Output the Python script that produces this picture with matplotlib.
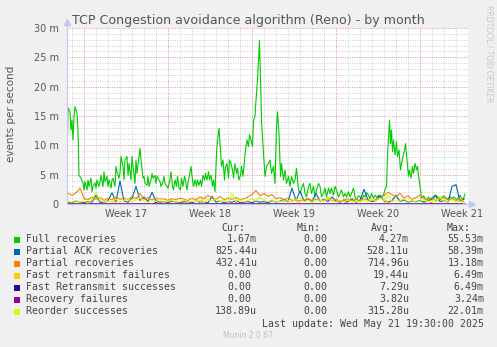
import matplotlib
matplotlib.use('Agg')
import matplotlib.pyplot as plt
from matplotlib.patches import Rectangle

W, H = 497, 347

# time axis: hours since the start of week 17; values in milli-events per second
full_hours = [-34, -32, -28, -26, -24, -22, -20, -18, -14, -12, -10, -6, -2, 0, 2, 6, 8, 10, 14, 16,
              18, 22, 24, 26, 30, 32, 34, 38, 40, 42, 46, 48, 50, 54, 56, 58, 62, 64, 66, 70,
              72, 74, 78, 80, 82, 86, 88, 90, 94, 96, 98, 102, 104, 106, 110, 112, 114, 118, 120, 122,
              126, 128, 130, 134, 136, 138, 142, 144, 146, 150, 152, 154, 158, 160, 162, 166, 168, 171, 174, 177,
              179, 182, 185, 187, 190, 193, 195, 198, 201, 203, 206, 209, 211, 214, 217, 219, 222, 225, 227, 230,
              233, 235, 238, 241, 243, 246, 249, 251, 254, 257, 259, 262, 265, 267, 270, 273, 275, 278, 281, 283,
              286, 289, 291, 294, 297, 299, 302, 305, 307, 310, 313, 315, 318, 321, 323, 326, 329, 331, 334, 337,
              339, 342, 343, 345, 347, 351, 355, 359, 362, 365, 369, 372, 375, 379, 382, 385, 387, 390, 393, 395,
              399, 402, 405, 409, 412, 415, 419, 422, 425, 429, 432, 435, 439, 442, 445, 449, 452, 455, 459, 462,
              465, 469, 472, 475, 479, 482, 485, 489, 492, 495, 499, 502, 505, 509, 512, 515, 519, 522, 525, 529,
              532, 535, 539, 542, 545, 549, 552, 556, 559, 562, 566, 569, 572, 575, 579, 582, 586, 589, 592, 595,
              599, 602, 605, 607, 611, 613, 615, 617, 619, 622, 625, 627, 630, 633, 635, 638, 641, 643, 646, 649,
              651, 654, 657, 659, 662, 665, 667, 670, 673, 675, 679, 682, 686, 689, 692, 695, 699, 702, 706, 709,
              712, 715, 719, 722, 726, 729, 732, 735, 739, 742, 746, 749, 752, 755, 759, 762]
full_vals = [6.8, 16.4, 15.7, 12.6, 14.3, 10.9, 14.9, 16.6, 15.5, 12.6, 4.9, 4.4, 3.6, 2.4, 3.8, 2.4, 4.1, 3.0, 4.4, 2.1,
             3.0, 3.6, 2.7, 4.1, 3.0, 3.8, 4.9, 3.0, 5.5, 3.8, 4.7, 3.0, 4.1, 2.7, 4.1, 4.4, 3.0, 6.4, 5.5, 4.4,
             5.3, 8.1, 6.4, 4.1, 7.5, 8.1, 4.9, 6.9, 4.1, 8.1, 6.4, 3.5, 7.5, 5.2, 8.1, 9.5, 7.5, 4.4, 4.7, 3.5,
             3.2, 4.7, 3.0, 4.1, 5.2, 4.4, 4.9, 3.5, 4.7, 4.1, 3.8, 3.0, 3.8, 4.7, 3.5, 3.0, 2.7, 3.8, 5.5, 3.0,
             2.4, 4.1, 3.0, 4.7, 2.7, 2.4, 4.4, 3.0, 4.7, 4.1, 2.4, 4.1, 4.9, 6.4, 4.1, 3.0, 4.1, 3.0, 4.1, 3.2,
             4.1, 3.0, 4.9, 4.1, 5.2, 4.1, 5.5, 4.1, 4.9, 3.0, 4.1, 2.1, 8.6, 10.9, 12.9, 9.2, 6.4, 7.5, 4.1, 6.4,
             6.9, 4.4, 7.5, 6.9, 5.8, 4.4, 6.9, 5.2, 6.1, 4.1, 4.9, 6.4, 4.7, 7.5, 9.2, 10.9, 9.8, 11.8, 10.9, 9.8,
             14.3, 14.9, 16.6, 18.9, 21.1, 27.9, 14.3, 8.6, 4.7, 6.4, 6.9, 7.5, 5.2, 6.4, 3.5, 13.2, 15.7, 12.0, 4.7, 6.9,
             4.1, 5.8, 3.5, 4.7, 3.0, 4.7, 3.5, 4.1, 6.1, 2.4, 1.8, 2.7, 3.5, 1.8, 1.2, 3.0, 3.5, 1.8, 3.0, 1.2,
             2.4, 3.5, 3.0, 1.2, 1.8, 2.7, 1.2, 2.7, 1.8, 2.7, 1.5, 3.0, 2.4, 1.2, 1.8, 2.4, 1.2, 1.8, 1.2, 2.1,
             1.2, 1.8, 2.7, 1.2, 0.7, 1.4, 1.2, 0.8, 1.5, 1.2, 1.9, 1.5, 0.9, 1.8, 1.0, 1.5, 1.1, 1.5, 0.9, 1.2,
             1.6, 2.4, 3.0, 8.1, 14.3, 10.3, 12.6, 8.9, 10.9, 8.4, 10.6, 8.1, 9.2, 5.8, 6.9, 8.1, 9.2, 10.3, 7.5, 4.7,
             5.8, 4.4, 6.4, 5.2, 6.9, 5.8, 6.4, 4.1, 2.4, 1.0, 1.4, 1.0, 0.7, 1.2, 0.8, 1.0, 1.3, 1.5, 0.9, 1.2,
             0.7, 1.0, 1.4, 1.2, 0.8, 1.0, 1.3, 0.9, 1.2, 1.0, 0.7, 1.2, 1.5, 1.0, 0.9, 1.7]

# the smaller series are sampled every 8 hours
grid_hours = list(range(-32, 761, 8))

partial_ack_vals = [0.3, 0.2, 0.5, 0.3, 0.2, 0.4, 0.3, 1.5, 0.3, 0.2, 0.6, 1.9, 0.4, 3.9, 0.5, 0.3, 1.0, 3.0, 0.6, 1.2,
                    0.4, 2.0, 0.5, 0.3, 0.4, 0.2, 0.5, 0.3, 0.2, 0.4, 0.3, 0.2, 0.5, 0.3, 0.4, 0.2, 1.3, 0.3, 0.5, 0.2,
                    0.4, 0.3, 0.6, 0.2, 0.3, 0.4, 0.2, 0.5, 0.3, 0.4, 0.2, 0.6, 0.3, 0.5, 0.8, 0.4, 2.7, 0.6, 2.2, 0.5,
                    0.9, 0.4, 1.8, 0.5, 0.8, 0.4, 1.2, 0.5, 0.3, 0.7, 0.4, 0.9, 0.3, 0.6, 2.5, 0.7, 0.4, 0.6, 1.5, 0.5,
                    0.3, 0.6, 1.5, 0.4, 0.7, 0.3, 0.5, 0.4, 0.6, 0.3, 0.5, 0.8, 1.5, 0.4, 0.6, 0.3, 3.0, 3.3, 0.5, 0.8]
partial_vals = [1.8, 1.5, 1.9, 2.7, 1.0, 0.7, 1.2, 0.8, 1.1, 0.6, 1.0, 0.7, 1.2, 0.8, 1.0, 0.7, 1.3, 0.9, 1.8, 0.8,
                1.1, 0.7, 1.0, 0.8, 0.9, 0.6, 0.9, 0.7, 1.0, 0.8, 0.6, 1.0, 0.7, 1.2, 0.9, 1.5, 1.0, 0.8, 1.3, 0.7,
                1.0, 0.8, 1.1, 0.7, 0.9, 1.2, 1.6, 2.3, 1.4, 1.8, 1.3, 1.6, 0.9, 1.1, 0.7, 1.0, 0.6, 0.8, 0.5, 0.7,
                0.9, 0.6, 0.8, 0.5, 0.7, 0.9, 0.6, 0.8, 0.5, 0.7, 0.9, 0.6, 0.8, 0.6, 0.9, 0.7, 0.5, 0.8, 1.0, 1.4,
                2.0, 1.6, 1.2, 1.8, 1.0, 1.4, 0.8, 1.1, 1.5, 0.9, 0.7, 1.0, 0.6, 0.8, 1.1, 0.7, 0.9, 0.6, 0.8, 0.4]
reorder_vals = [0.4, 0.3, 0.6, 0.3, 0.5, 0.2, 0.7, 1.9, 0.6, 0.3, 0.5, 0.4, 0.8, 0.3, 0.6, 0.9, 0.4, 0.7, 1.0, 0.5,
                0.3, 0.6, 0.4, 0.8, 0.3, 0.5, 0.6, 0.3, 0.4, 0.7, 0.3, 0.5, 0.4, 0.6, 0.3, 0.8, 0.5, 0.9, 0.4, 0.6,
                0.3, 1.8, 0.5, 0.7, 0.4, 0.6, 0.9, 0.5, 1.2, 0.6, 0.4, 0.7, 0.3, 0.5, 0.4, 0.6, 0.3, 0.8, 1.0, 0.4,
                0.6, 0.3, 0.5, 0.7, 0.4, 1.2, 0.5, 0.3, 0.6, 0.4, 0.7, 0.3, 0.5, 0.4, 0.6, 0.3, 0.8, 0.5, 1.0, 0.6,
                1.5, 0.4, 0.7, 0.5, 0.9, 0.4, 0.6, 0.3, 0.5, 0.7, 0.4, 0.6, 0.3, 1.4, 0.5, 0.4, 0.7, 0.3, 0.5, 0.1]

# rare events, mostly zero
fast_fail_hours = [-34, 56, 60, 64, 232, 236, 240, 424, 428, 432, 600, 604, 608, 762]
fast_fail_vals = [0, 0, 0.6, 0, 0, 0.9, 0, 0, 0.5, 0, 0, 0.7, 0, 0]
fast_succ_hours = [-34, 140, 144, 148, 520, 524, 528, 762]
fast_succ_vals = [0, 0, 0.3, 0, 0, 0.2, 0, 0]
rec_fail_hours = [-34, 300, 304, 308, 690, 694, 698, 762]
rec_fail_vals = [0, 0, 0.2, 0, 0, 0.2, 0, 0]

week_labels = ['Week 17', 'Week 18', 'Week 19', 'Week 20', 'Week 21']
legend_names = ['Full recoveries', 'Partial ACK recoveries', 'Partial recoveries',
                'Fast retransmit failures', 'Fast Retransmit successes',
                'Recovery failures', 'Reorder successes']
legend_cur = ['1.67m', '825.44u', '432.41u', '0.00', '0.00', '0.00', '138.89u']
legend_min = ['0.00', '0.00', '0.00', '0.00', '0.00', '0.00', '0.00']
legend_avg = ['4.27m', '528.11u', '714.96u', '19.44u', '7.29u', '3.82u', '315.28u']
legend_max = ['55.53m', '58.39m', '13.18m', '6.49m', '6.49m', '3.24m', '22.01m']
colors = ['#00cc00', '#0066b3', '#ff8000', '#ffcc00', '#330099', '#990099', '#ccff00']

series = [
    (full_hours, full_vals),
    (grid_hours, partial_ack_vals),
    (grid_hours, partial_vals),
    (fast_fail_hours, fast_fail_vals),
    (fast_succ_hours, fast_succ_vals),
    (rec_fail_hours, rec_fail_vals),
    (grid_hours, reorder_vals),
]


def px(x, y):
    return x / W, 1 - y / H


fig = plt.figure(figsize=(W / 100, H / 100), dpi=100, facecolor='#f0f0f0')
ax = fig.add_axes([67 / W, 1 - 204 / H, (468 - 67) / W, (204 - 28) / H])
ax.set_facecolor('white')
ax.set_xlim(-34, 768)
ax.set_ylim(0, 30)
for s in ax.spines.values():
    s.set_visible(False)

# grid: days / 1m minor, weeks / 5m major
dots = (0, (1, 1.4))
for h in range(-24, 768, 24):
    if h % 168:
        ax.axvline(h, color='#cfcfcf', lw=0.7, ls=dots, zorder=1)
for v in range(1, 31):
    if v % 5:
        ax.axhline(v, color='#cfcfcf', lw=0.7, ls=dots, zorder=1)
for h in range(0, 768, 168):
    ax.axvline(h, color='#e79191', lw=0.7, ls=dots, zorder=1)
for v in range(5, 31, 5):
    ax.axhline(v, color='#e79191', lw=0.7, ls=dots, zorder=1)

for (hx, vals), c in zip(series, colors):
    ax.plot(hx, vals, color=c, lw=0.8, zorder=3)

# axes with arrow heads
ax.plot([-34, -34], [0, 31.0], color='#c4c8ee', lw=0.8, clip_on=False, zorder=4)
ax.plot([-34], [31.0], marker='^', ms=4, color='#c4c8ee', clip_on=False, zorder=4)
ax.plot([-34, 776], [0, 0], color='#c4c8ee', lw=0.8, clip_on=False, zorder=4)
ax.plot([776], [0], marker='>', ms=4, color='#c4c8ee', clip_on=False, zorder=4)

ax.set_yticks(range(0, 31, 5))
ax.set_yticklabels(['0'] + [f'{v} m' for v in range(5, 31, 5)])
ax.set_xticks([84 + 168 * i for i in range(5)])
ax.set_xticklabels(week_labels)
ax.set_xticks(range(-24, 768, 24), minor=True)
ax.tick_params(axis='both', which='major', length=0, labelsize=7, labelcolor='#555555')
ax.tick_params(axis='y', pad=6)
ax.tick_params(axis='x', pad=3.5)
ax.tick_params(axis='x', which='minor', length=2, color='#d8d8d8', direction='out')

fig.text(*px(248, 24), 'TCP Congestion avoidance algorithm (Reno) - by month',
         ha='center', va='baseline', fontsize=9.05, color='#555555')
fig.text(*px(11, 114), 'events per second', rotation=90, ha='center', va='center',
         fontsize=7.5, color='#555555')
fig.text(*px(488.5, 5), 'RRDTOOL / TOBI OETIKER', rotation=270, ha='center', va='top',
         fontsize=5.5, color='#c8c8c8')

mono = dict(family='DejaVu Sans Mono', fontsize=7.15, color='#444444', va='center')
fig.text(*px(245.5, 228.3), 'Cur:', ha='right', **mono)
fig.text(*px(320.3, 228.3), 'Min:', ha='right', **mono)
fig.text(*px(395.3, 228.3), 'Avg:', ha='right', **mono)
fig.text(*px(470.3, 228.3), 'Max:', ha='right', **mono)


def col_text(x_unit_end, s, y):
    # numbers without a unit leave the unit column blank
    if s[-1].isdigit():
        x_unit_end -= 5.96
    fig.text(*px(x_unit_end, y), s, ha='right', **mono)


for i, name in enumerate(legend_names):
    y = 239.5 + 12 * i
    fig.add_artist(Rectangle(px(14, y + 3), 6 / W, 6 / H, transform=fig.transFigure,
                             facecolor=colors[i], edgecolor='none'))
    fig.text(*px(26, y), name, ha='left', **mono)
    col_text(257.2, legend_cur[i], y)
    col_text(333.2, legend_min[i], y)
    col_text(408.8, legend_avg[i], y)
    col_text(483.8, legend_max[i], y)

fig.text(*px(483.8, 323.7), 'Last update: Wed May 21 19:30:00 2025', ha='right', **mono)
fig.text(*px(248.3, 335.7), 'Munin 2.0.67', ha='center', va='center', fontsize=5.5, color='#c0c0c0')

fig.savefig('out.png', dpi=100, facecolor=fig.get_facecolor())
